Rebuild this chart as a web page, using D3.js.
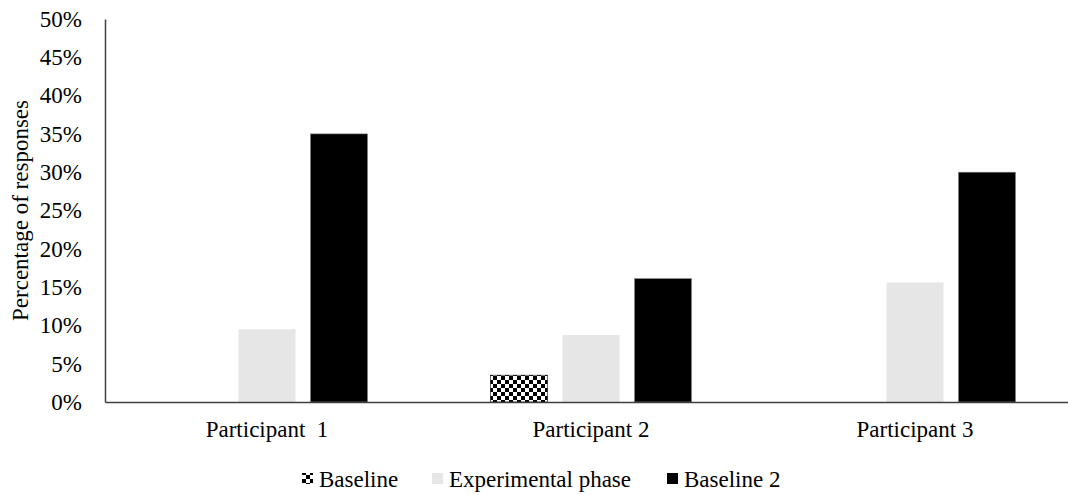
<!DOCTYPE html>
<html>
<head>
<meta charset="utf-8">
<script src="https://cdn.jsdelivr.net/npm/d3@7"></script>
<style>
  body { margin: 0; background: #fff; }
  text { font-family: "Liberation Serif", "Times New Roman", serif; fill: #000; }
</style>
</head>
<body>
<script>
(function() {

	// data
	var participants = ["Participant  1", "Participant 2", "Participant 3"];
	var seriesNames = ["Baseline", "Experimental phase", "Baseline 2"];
	var baseline = [0, 3.5, 0];
	var experimental = [9.5, 8.75, 15.6];
	var baseline2 = [35, 16.1, 30];
	var yTicks = [0, 5, 10, 15, 20, 25, 30, 35, 40, 45, 50];

	var W = 1068, H = 495;
	var left = 105, right = 1077, top = 19, bottom = 402;
	var fontSize = "23px";

	var svg = d3.select("body")
		.append("svg")
		.attr("width", W)
		.attr("height", H);

	// checker pattern for the first baseline
	var defs = svg.append("defs");
	var pat = defs.append("pattern")
		.attr("id", "checker")
		.attr("patternUnits", "userSpaceOnUse")
		.attr("width", 8)
		.attr("height", 8);
	pat.append("rect").attr("width", 8).attr("height", 8).attr("fill", "#fff");
	pat.append("rect").attr("width", 4).attr("height", 4).attr("fill", "#000");
	pat.append("rect").attr("x", 4).attr("y", 4).attr("width", 4).attr("height", 4).attr("fill", "#000");

	var fills = ["url(#checker)", "#e6e6e6", "#000"];
	var strokes = ["#000", "none", "#7f7f7f"];

	var data = participants.map(function(p, i) {
		return {
			name: p,
			values: [baseline[i], experimental[i], baseline2[i]].map(function(v, j) {
				return {series: j, value: v};
			})
		};
	});

	var x0 = d3.scaleBand()
		.domain(participants)
		.range([left, right]);

	var g0 = x0.bandwidth();
	var inner = 201;
	var x1 = d3.scaleBand()
		.domain([0, 1, 2])
		.range([(g0 - inner) / 2, (g0 + inner) / 2])
		.paddingInner(15 / 72);

	var y = d3.scaleLinear()
		.domain([0, 50])
		.range([bottom, top]);

	// y axis
	var yAxis = d3.axisLeft(y)
		.tickValues(yTicks)
		.tickSize(0)
		.tickPadding(23)
		.tickFormat(function(d) { return d + "%"; });

	var yG = svg.append("g")
		.attr("transform", "translate(" + left + ",0)")
		.call(yAxis);
	yG.select(".domain").attr("stroke", "#404040").attr("stroke-width", 1.5);
	yG.selectAll("text")
		.style("font-size", fontSize)
		.style("font-family", "Liberation Serif");

	// bars
	var group = svg.selectAll(".grp")
		.data(data)
		.enter().append("g")
		.attr("class", "grp")
		.attr("transform", function(d) { return "translate(" + x0(d.name) + ",0)"; });

	group.selectAll("rect")
		.data(function(d) { return d.values.filter(function(v) { return v.value > 0; }); })
		.enter().append("rect")
		.attr("x", function(d) { return x1(d.series); })
		.attr("width", x1.bandwidth())
		.attr("y", function(d) { return y(d.value); })
		.attr("height", function(d) { return bottom - y(d.value); })
		.attr("fill", function(d) { return fills[d.series]; })
		.attr("stroke", function(d) { return strokes[d.series]; })
		.attr("stroke-width", 0.6);

	// x axis
	var xAxis = d3.axisBottom(x0)
		.tickSize(0)
		.tickPadding(19);
	var xG = svg.append("g")
		.attr("transform", "translate(0," + bottom + ")")
		.call(xAxis);
	xG.select(".domain").attr("stroke", "#404040").attr("stroke-width", 1.5);
	xG.selectAll("text")
		.style("font-size", fontSize)
		.style("font-family", "Liberation Serif")
		.style("white-space", "pre");

	// y axis title
	svg.append("text")
		.attr("transform", "translate(28," + ((top + bottom) / 2) + ") rotate(-90)")
		.attr("text-anchor", "middle")
		.style("font-size", fontSize)
		.text("Percentage of responses");

	// legend
	var legendX = [302, 432, 667];
	var legend = svg.selectAll(".legend")
		.data(seriesNames)
		.enter().append("g")
		.attr("class", "legend")
		.attr("transform", function(d, i) { return "translate(" + legendX[i] + ",479)"; });

	legend.append("rect")
		.attr("x", 0)
		.attr("y", -6)
		.attr("width", 11)
		.attr("height", 11)
		.attr("fill", function(d, i) { return i === 0 ? "url(#checker)" : fills[i]; });

	legend.append("text")
		.attr("x", 17)
		.attr("dy", "0.35em")
		.style("font-size", fontSize)
		.text(function(d) { return d; });

})();
</script>
</body>
</html>
